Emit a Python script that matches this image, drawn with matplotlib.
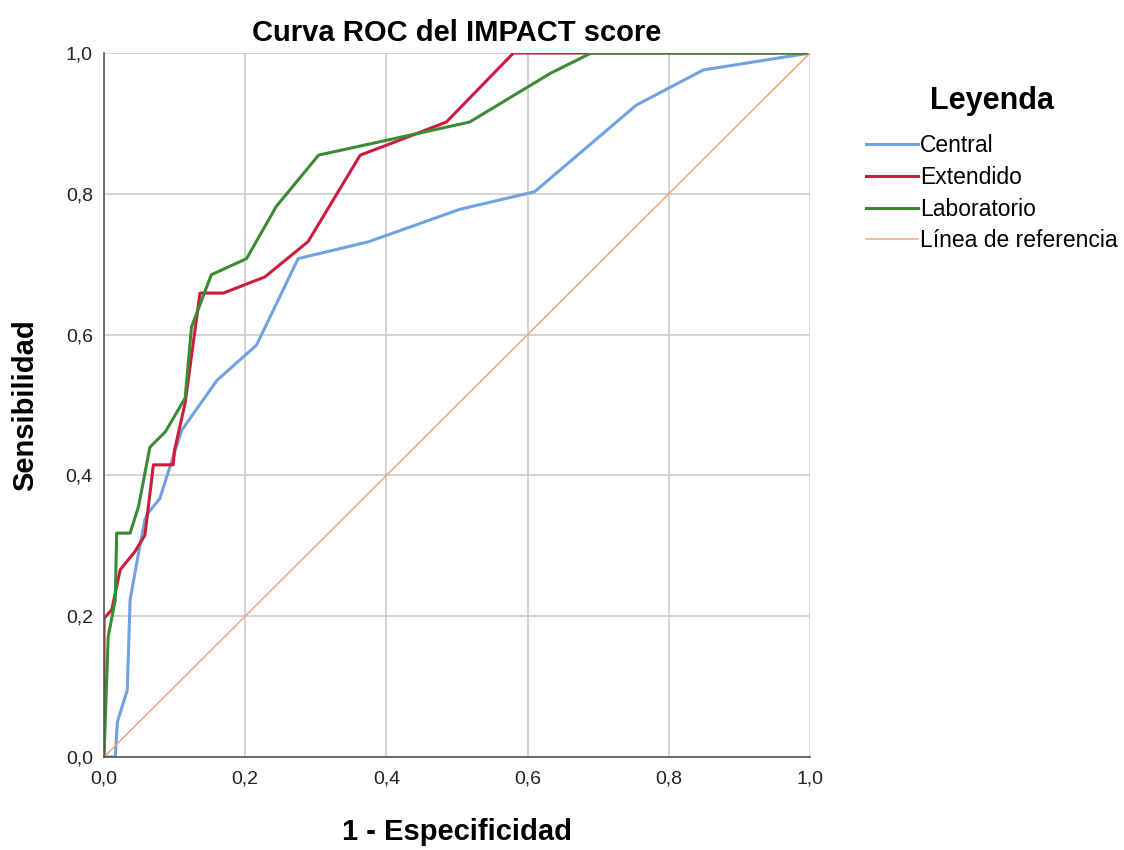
import matplotlib
matplotlib.use("Agg")
import matplotlib.pyplot as plt
from matplotlib.ticker import FuncFormatter

plt.rcParams['font.family'] = ['Liberation Sans', 'DejaVu Sans']

# Data (1 - especificidad, sensibilidad)
central_x = [0.0, 0.016, 0.019, 0.033, 0.037, 0.049, 0.058, 0.062, 0.079, 0.110, 0.160, 0.216, 0.275, 0.375, 0.504, 0.610, 0.754, 0.849, 1.0]
central_y = [0.0, 0.0, 0.050, 0.095, 0.223, 0.290, 0.337, 0.346, 0.367, 0.464, 0.535, 0.585, 0.708, 0.732, 0.778, 0.803, 0.926, 0.976, 1.0]

ext_x = [0.0, 0.0, 0.011, 0.023, 0.044, 0.058, 0.070, 0.098, 0.100, 0.115, 0.136, 0.169, 0.228, 0.289, 0.363, 0.400, 0.485, 0.580, 0.690, 1.0]
ext_y = [0.0, 0.197, 0.209, 0.266, 0.292, 0.315, 0.415, 0.415, 0.436, 0.503, 0.659, 0.659, 0.682, 0.732, 0.855, 0.869, 0.902, 1.0, 1.0, 1.0]

lab_x = [0.0, 0.006, 0.016, 0.018, 0.037, 0.049, 0.065, 0.087, 0.115, 0.124, 0.152, 0.202, 0.244, 0.304, 0.400, 0.518, 0.632, 0.690, 1.0]
lab_y = [0.0, 0.171, 0.223, 0.318, 0.318, 0.356, 0.440, 0.462, 0.510, 0.611, 0.685, 0.708, 0.782, 0.855, 0.876, 0.902, 0.971, 1.0, 1.0]

ref_x = [0.0, 1.0]
ref_y = [0.0, 1.0]

ticks = [0.0, 0.2, 0.4, 0.6, 0.8, 1.0]

fig = plt.figure(figsize=(11.24, 8.5), dpi=100)
ax = fig.add_axes([0.0925, 0.1094, 0.6281, 0.8282])

ax.plot(central_x, central_y, color='#6fa2de', lw=2.2, label='Central', solid_joinstyle='round')
ax.plot(ext_x, ext_y, color='#cc1c3e', lw=2.2, label='Extendido', solid_joinstyle='round')
ax.plot(lab_x, lab_y, color='#3b8a34', lw=2.2, label='Laboratorio', solid_joinstyle='round')
ax.plot(ref_x, ref_y, color='#f2a57a', lw=1.1, label='Línea de referencia')

ax.set_xlim(0, 1)
ax.set_ylim(0, 1)
ax.set_xticks(ticks)
ax.set_yticks(ticks)
fmt = FuncFormatter(lambda v, p: f"{v:.1f}".replace('.', ','))
ax.xaxis.set_major_formatter(fmt)
ax.yaxis.set_major_formatter(fmt)
ax.tick_params(labelsize=14, colors='#222222', length=0)
ax.tick_params(axis='x', pad=10)
ax.tick_params(axis='y', pad=8)
ax.grid(True, color='#cccccc', lw=1.2)
ax.set_axisbelow(True)
for s in ['top', 'right']:
    ax.spines[s].set_visible(False)
for s in ['left', 'bottom']:
    ax.spines[s].set_color('#555555')
    ax.spines[s].set_linewidth(1.2)

ax.set_title('Curva ROC del IMPACT score', fontsize=21, fontweight='bold', pad=9)
ax.set_xlabel('1 - Especificidad', fontsize=21, fontweight='bold', labelpad=22)
ax.set_ylabel('Sensibilidad', fontsize=21, fontweight='bold', labelpad=19)

leg = ax.legend(loc='upper left', bbox_to_anchor=(1.08, 0.953), frameon=False,
                title='Leyenda', title_fontproperties={'weight': 'bold', 'size': 22},
                fontsize=16.5, handlelength=2.25, handletextpad=0.1, labelspacing=0.38,
                borderpad=0, borderaxespad=0)
leg._legend_box.align = 'center'
leg._legend_box.sep = 13

fig.savefig('out.png', dpi=100, facecolor='white')
